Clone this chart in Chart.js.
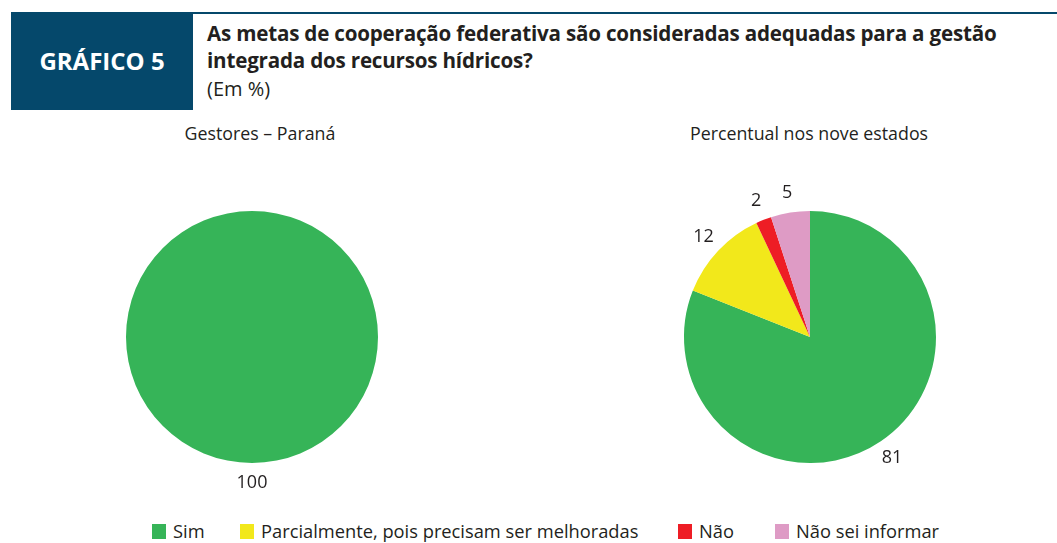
<!DOCTYPE html>
<html>
<head>
<meta charset="utf-8">
<script src="https://cdn.jsdelivr.net/npm/chart.js@4"></script>
<style>
    body { margin: 0; width: 1057px; height: 543px; background: #fff; position: relative; overflow: hidden; font-family: "Open Sans", sans-serif; color: #231f20; }
    .tag { position: absolute; left: 11px; top: 12px; width: 182px; height: 98px; background: #05486b; color: #fff; font-weight: 700; font-size: 24px; line-height: 98px; text-align: center; }
    .topline { position: absolute; left: 193px; top: 12px; right: 0; height: 2px; background: #05486b; }
    .title { position: absolute; left: 207px; top: 20px; font-size: 20.6px; font-weight: 700; line-height: 27px; letter-spacing: -0.2px; white-space: nowrap; }
    .unit { position: absolute; left: 207px; top: 75px; font-size: 20px; }
    .sub { position: absolute; top: 121px; font-size: 17.8px; text-align: center; width: 400px; }
    .wrap { position: absolute; top: 157px; width: 360px; height: 360px; }
    .legend { position: absolute; top: 518px; left: 0; font-size: 18.3px; }
    .legend span { position: absolute; white-space: nowrap; }
    .legend i { position: absolute; width: 14px; height: 15px; top: 6px; }
</style>
</head>
<body>
<div class="tag">GRÁFICO 5</div>
<div class="topline"></div>
<div class="title">As metas de cooperação federativa são consideradas adequadas para a gestão<br>integrada dos recursos hídricos?</div>
<div class="unit">(Em %)</div>
<div class="sub" style="left:60px">Gestores – Paraná</div>
<div class="sub" style="left:609px">Percentual nos nove estados</div>
<div class="wrap" style="left:72px"><canvas id="pieParana"></canvas></div>
<div class="wrap" style="left:630px"><canvas id="pieEstados"></canvas></div>
<div class="legend" id="legend"></div>

<script>
// Categorias e valores (%)
const categorias = ["Sim", "Parcialmente, pois precisam ser melhoradas", "Não", "Não sei informar"];
const cores = ["#36b458", "#f2e81b", "#ee1d25", "#de9bc5"];
const valoresParana = [100, 0, 0, 0];
const valoresEstados = [81, 12, 2, 5];

// rótulos fora da pizza
const rotulosFora = {
    id: 'rotulosFora',
    afterDatasetsDraw(chart) {
        const ctx = chart.ctx;
        const meta = chart.getDatasetMeta(0);
        ctx.save();
        ctx.font = '18px "Open Sans", sans-serif';
        ctx.fillStyle = '#231f20';
        ctx.textAlign = 'center';
        ctx.textBaseline = 'middle';
        meta.data.forEach((arc, i) => {
            const v = chart.data.datasets[0].data[i];
            if (!v) return;
            const p = arc.getProps(['x', 'y', 'startAngle', 'endAngle', 'outerRadius'], true);
            const ang = (p.startAngle + p.endAngle) / 2;
            const r = p.outerRadius + 20;
            ctx.fillText(v, p.x + Math.cos(ang) * r, p.y + Math.sin(ang) * r);
        });
        ctx.restore();
    }
};

function desenhaPizza(id, valores) {
    new Chart(document.getElementById(id), {
        type: 'pie',
        data: {
            labels: categorias,
            datasets: [{
                data: valores,
                backgroundColor: cores,
                borderWidth: 0
            }]
        },
        options: {
            responsive: true,
            maintainAspectRatio: false,
            animation: false,
            layout: { padding: 54 },
            plugins: {
                legend: { display: false },
                tooltip: { enabled: false }
            }
        },
        plugins: [rotulosFora]
    });
}

desenhaPizza("pieParana", valoresParana);
desenhaPizza("pieEstados", valoresEstados);

// legenda
const posLegenda = [152, 240, 678, 775];
const legend = document.getElementById("legend");
categorias.forEach((c, i) => {
    legend.innerHTML += `<i style="left:${posLegenda[i]}px;background:${cores[i]}"></i><span style="left:${posLegenda[i] + 21}px">${c}</span>`;
});
</script>
</body>
</html>
